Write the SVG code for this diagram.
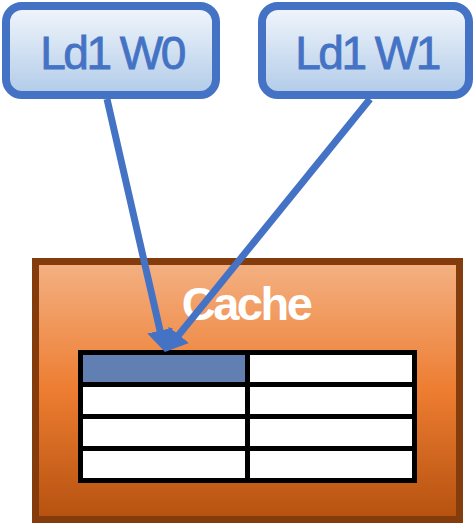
<svg xmlns="http://www.w3.org/2000/svg" width="475" height="523" viewBox="0 0 475 523">
<defs>
<linearGradient id="gBlue" x1="0" y1="0" x2="0" y2="1">
<stop offset="0" stop-color="#F2F6FC"/>
<stop offset="1" stop-color="#B1CBE8"/>
</linearGradient>
<linearGradient id="gOrange" x1="0" y1="0" x2="0" y2="1">
<stop offset="0" stop-color="#F4B183"/>
<stop offset="0.5" stop-color="#ED7D31"/>
<stop offset="1" stop-color="#B5510F"/>
</linearGradient>
<marker id="ah" viewBox="0 0 22 26" refX="7" refY="13" markerWidth="22" markerHeight="26" markerUnits="userSpaceOnUse" orient="auto">
<path d="M0,0 L22,13 L0,26 z" fill="#4472C4"/>
</marker>
<style>
.node rect{fill:url(#gBlue);stroke:#4472C4;stroke-width:8}
.node text{font-family:"Liberation Sans",Arial,sans-serif;font-size:46px;fill:#4472C4;text-anchor:middle;letter-spacing:-2.5px;stroke:#4472C4;stroke-width:0.8}
.cell{fill:#FFFFFF}
.grid{fill:none;stroke:#000000;stroke-width:5}
.conn line{stroke:#4472C4;stroke-width:7;marker-end:url(#ah)}
</style>
</defs>
<g id="cache">
<rect x="35.5" y="261.5" width="424" height="258" fill="url(#gOrange)" stroke="#843C0C" stroke-width="7"/>
<text x="246" y="320" font-family="'Liberation Sans',Arial,sans-serif" font-size="47" font-weight="bold" fill="#FFFFFF" text-anchor="middle" letter-spacing="-2.5">Cache</text>
<g id="table">
<rect x="80" y="352" width="169" height="31" fill="#617FB2"/>
<rect class="cell" x="249" y="352" width="166" height="31"/>
<rect class="cell" x="80" y="383" width="335" height="98"/>
<rect class="grid" x="80.5" y="352.5" width="334" height="128"/>
<line class="grid" x1="247.5" y1="352" x2="247.5" y2="481"/>
<line class="grid" x1="80" y1="384.5" x2="415" y2="384.5"/>
<line class="grid" x1="80" y1="416.5" x2="415" y2="416.5"/>
<line class="grid" x1="80" y1="448.5" x2="415" y2="448.5"/>
</g>
</g>
<g id="ld1w0" class="node">
<rect x="6" y="6" width="210" height="89" rx="16" ry="16"/>
<text x="112" y="69">Ld1 W0</text>
</g>
<g id="ld1w1" class="node">
<rect x="262" y="6" width="207" height="89" rx="16" ry="16"/>
<text x="367" y="69">Ld1 W1</text>
</g>
<g id="connectors" class="conn">
<line x1="107" y1="99" x2="161.6" y2="337.4"/>
<line x1="370" y1="99" x2="174.4" y2="340.3"/>
</g>
</svg>
